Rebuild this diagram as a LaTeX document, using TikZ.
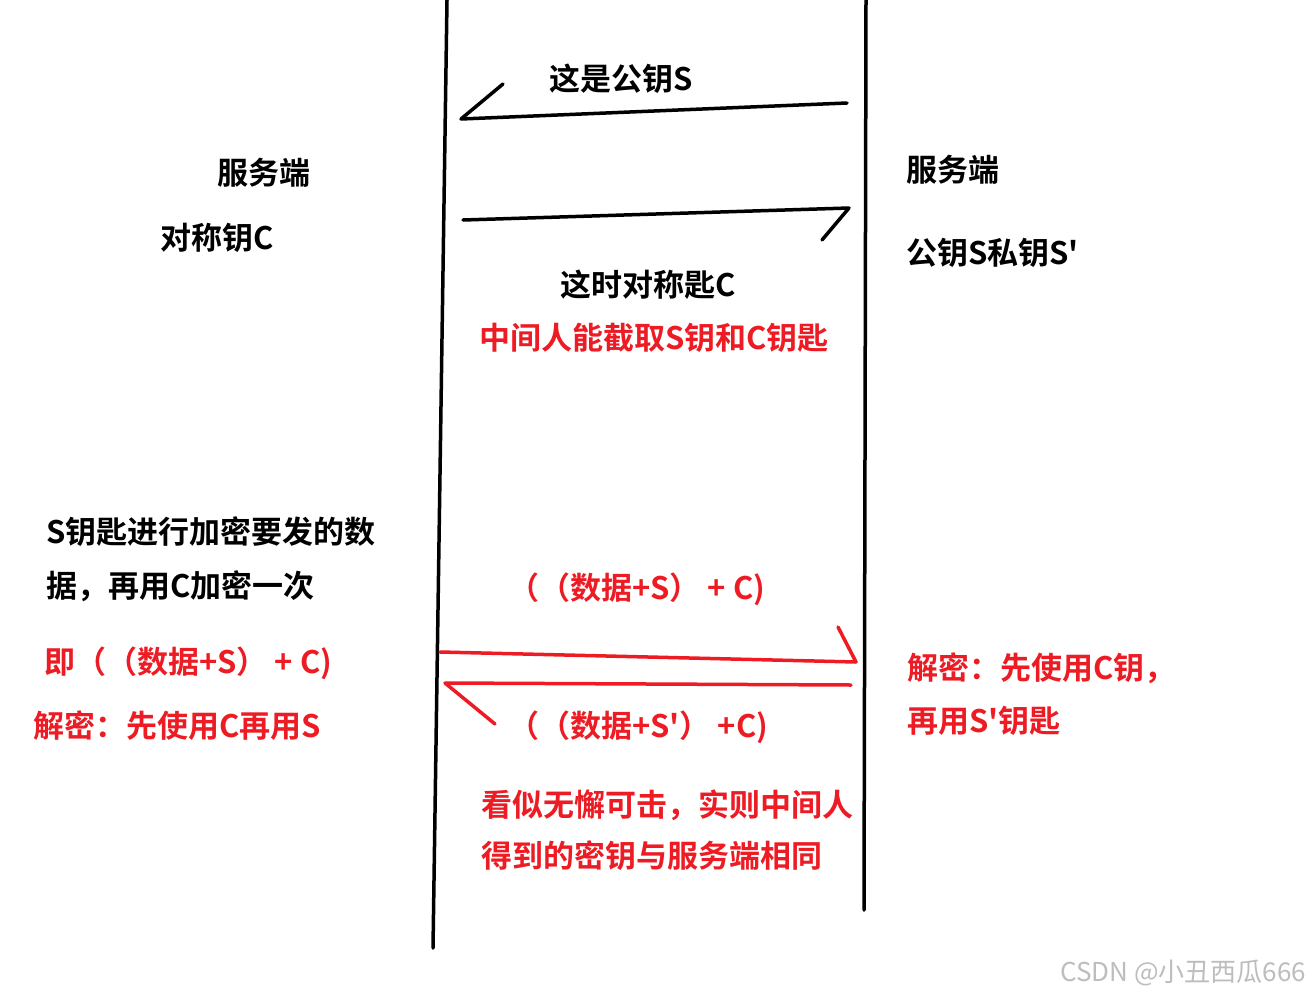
\documentclass[tikz,border=0pt]{standalone}
\usepackage{fontspec}
\setmainfont{Noto Sans CJK SC}
\newfontfamily\cjkb{Noto Sans CJK SC Bold}
\newfontfamily\cjkr{Noto Sans CJK SC}
\definecolor{pred}{HTML}{ED1C24}
\definecolor{wm}{HTML}{BDBDBD}
\tikzset{
  txt/.style={anchor=west, inner sep=0pt, font=\cjkb\fontsize{31}{36}\selectfont, text=black},
  rtxt/.style={txt, text=pred},
  pen/.style={line width=3.5pt, line cap=round, line join=round, black},
  rpen/.style={pen, pred},
}
\begin{document}
\begin{tikzpicture}[x=1pt,y=-1pt]
\useasboundingbox (0,0) rectangle (1309,996);
% lifelines
\coordinate (L1) at (447,0); \coordinate (L2) at (433,948);
\coordinate (R1) at (866,0); \coordinate (R2) at (864,910);
\draw[pen] (L1) -- (L2);
\draw[pen] (R1) -- (R2);
% black arrows
\coordinate (a1s) at (847,103); \coordinate (a1e) at (461,119); \coordinate (a1h) at (503,84);
\draw[pen] (a1s) -- (a1e) -- (a1h);
\coordinate (a2s) at (463,220); \coordinate (a2e) at (849,208); \coordinate (a2h) at (822,240);
\draw[pen] (a2s) -- (a2e) -- (a2h);
% red arrows
\coordinate (b1s) at (440,652); \coordinate (b1e) at (856,662); \coordinate (b1h) at (838,627);
\draw[rpen] (b1s) -- (b1e) -- (b1h);
\coordinate (b2s) at (851,685); \coordinate (b2e) at (445,683); \coordinate (b2h) at (495,724);
\draw[rpen] (b2s) -- (b2e) -- (b2h);
% black texts
\node[txt] (t1) at (549,79) {这是公钥S};
\node[txt] (t2) at (217,173) {服务端};
\node[txt] (t3) at (160,238) {对称钥C};
\node[txt] (t4) at (906,170) {服务端};
\node[txt] (t5) at (906,253) {公钥S私钥S'};
\node[txt] (t6) at (560,285) {这时对称匙C};
\node[txt] (t7) at (46,532) {S钥匙进行加密要发的数};
\node[txt] (t8) at (46,586) {据，再用C加密一次};
% red texts
\node[rtxt] (r1) at (479,338) {中间人能截取S钥和C钥匙};
\node[rtxt] (r2) at (44,663) {即（（数据+S） + C)};
\node[rtxt] (r3) at (33,726) {解密：先使用C再用S};
\node[rtxt] (r4) at (508,589) {（（数据+S） + C)};
\node[rtxt] (r5) at (508,727) {（（数据+S'） +C)};
\node[rtxt] (r6) at (907,668) {解密：先使用C钥，};
\node[rtxt] (r7) at (907,721) {再用S'钥匙};
\node[rtxt] (r8) at (481,805) {看似无懈可击，实则中间人};
\node[rtxt] (r9) at (481,856) {得到的密钥与服务端相同};
% watermark
\node[anchor=west, inner sep=0pt, font=\cjkr\fontsize{26}{30}\selectfont, text=wm] (wm) at (1060,973) {CSDN @小丑西瓜666};
\end{tikzpicture}
\end{document}
